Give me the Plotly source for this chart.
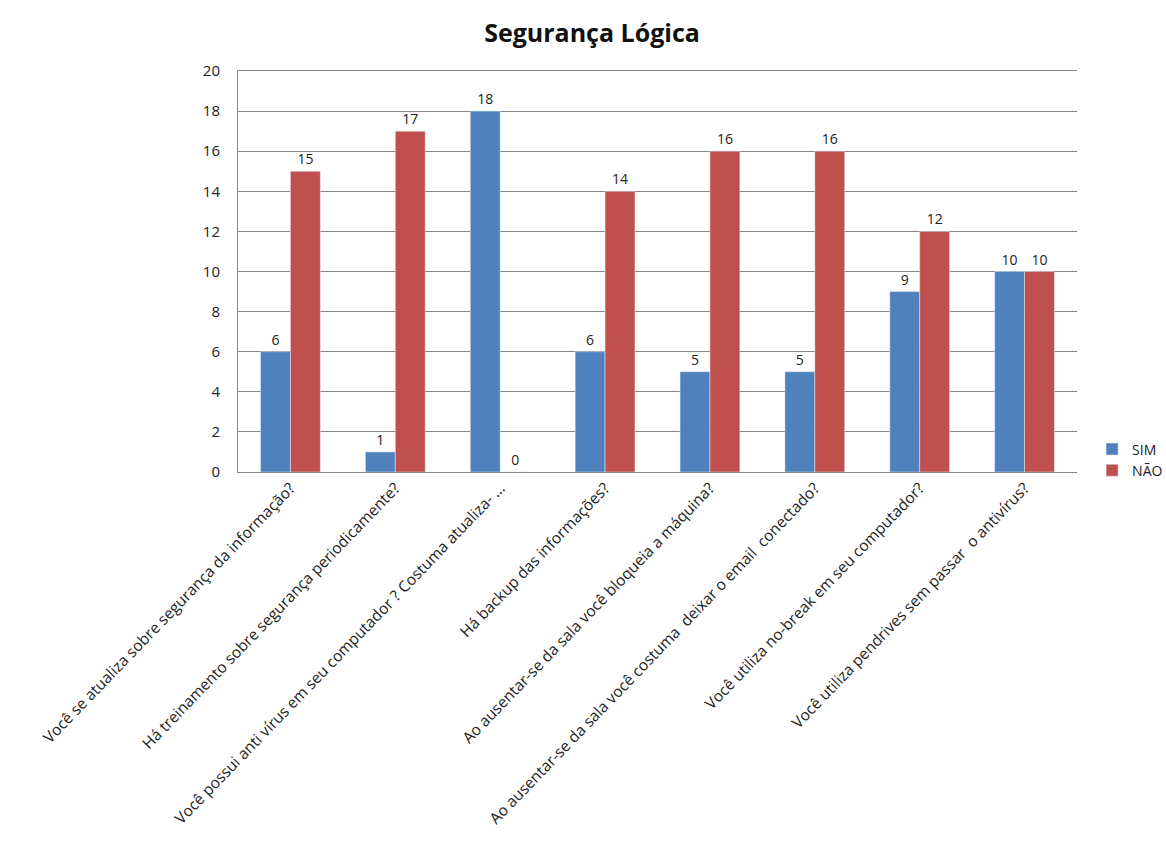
import plotly.graph_objects as go

categories = [
    "Você se atualiza sobre segurança da informação?",
    "Há treinamento sobre segurança periodicamente?",
    "Você possui anti vírus em seu computador ? Costuma atualiza- ...",
    "Há backup das informações?",
    "Ao ausentar-se da sala você bloqueia a máquina?",
    "Ao ausentar-se da sala você costuma  deixar o email  conectado?",
    "Você utiliza no-break em seu computador?",
    "Você utiliza pendrives sem passar  o antivírus?",
]
sim = [6, 1, 18, 6, 5, 5, 9, 10]
nao = [15, 17, 0, 14, 16, 16, 12, 10]
yticks = list(range(0, 21, 2))

FONT = "Open Sans"
fig = go.Figure()
fig.add_trace(go.Bar(name="SIM", x=categories, y=sim, marker_color="#4F81BD",
                     text=[str(v) for v in sim], textposition="outside",
                     textfont=dict(size=14, color="#222"), cliponaxis=False))
fig.add_trace(go.Bar(name="NÃO", x=categories, y=nao, marker_color="#C0504D",
                     text=[str(v) for v in nao], textposition="outside",
                     textfont=dict(size=14, color="#222"), cliponaxis=False))

fig.update_layout(
    width=1166, height=861,
    margin=dict(l=238, r=89, t=71, b=389, autoexpand=False),
    paper_bgcolor="white", plot_bgcolor="white",
    font=dict(family=FONT, size=13, color="#222"),
    title=dict(text="<b>Segurança Lógica</b>", x=592/1166, xanchor="center",
               y=1 - 33/861, yanchor="middle", font=dict(size=25, family=FONT, color="#111")),
    barmode="group", bargap=0.43, bargroupgap=0,
    legend=dict(x=1.018, xanchor="left", y=0.03, yanchor="middle",
                font=dict(size=14, family=FONT), itemwidth=30, tracegroupgap=2,
                bgcolor="rgba(0,0,0,0)"),
    showlegend=True,
    uniformtext=dict(mode=False),
)
fig.update_xaxes(tickangle=-46, showline=True, linecolor="#868686", linewidth=1,
                 ticks="", tickfont=dict(size=15.5, family=FONT), automargin=False,
                 mirror=True)
fig.update_yaxes(range=[0, 20], tickvals=yticks, showgrid=True, gridcolor="#868686",
                 gridwidth=1, showline=True, linecolor="#868686", linewidth=1,
                 ticks="", tickfont=dict(size=15, family=FONT), ticklabelstandoff=14,
                 automargin=False, zeroline=False)

fig.write_html("out.html")
